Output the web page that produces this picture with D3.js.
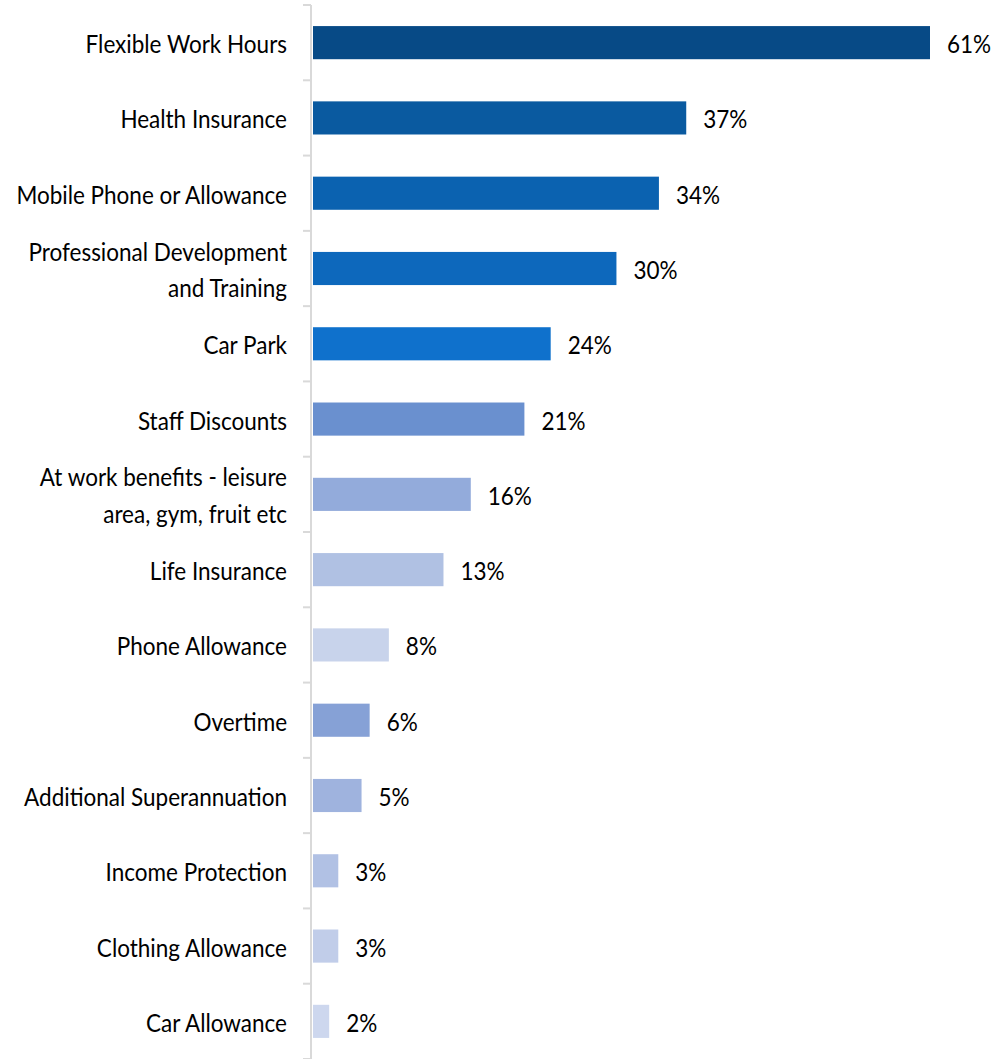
<!DOCTYPE html>
<html><head><meta charset="utf-8">
<script src="https://cdn.jsdelivr.net/npm/d3@7"></script>
<style>html,body{margin:0;padding:0;background:#fff;} svg{display:block;}</style>
</head><body>
<svg id="chart" width="1008" height="1059"></svg>
<script>
const categories = [
  ["Flexible Work Hours"],
  ["Health Insurance"],
  ["Mobile Phone or Allowance"],
  ["Professional Development", "and Training"],
  ["Car Park"],
  ["Staff Discounts"],
  ["At work benefits - leisure", "area, gym, fruit etc"],
  ["Life Insurance"],
  ["Phone Allowance"],
  ["Overtime"],
  ["Additional Superannuation"],
  ["Income Protection"],
  ["Clothing Allowance"],
  ["Car Allowance"]
];
// bar lengths (percent)
const values = [61, 36.9, 34.2, 30, 23.5, 20.9, 15.6, 12.9, 7.5, 5.6, 4.8, 2.5, 2.5, 1.6];
// printed data labels
const labels = ["61%", "37%", "34%", "30%", "24%", "21%", "16%", "13%", "8%", "6%", "5%", "3%", "3%", "2%"];
const colors = ["#074a86", "#0a5aa0", "#0b62b0", "#0d68bc", "#0f71cc", "#6a90cf", "#93abdb", "#b0c1e3", "#c8d3eb", "#86a1d6", "#9fb3de", "#b1c1e4", "#c1cde9", "#cdd7ee"];

const svg = d3.select("#chart");
const keys = categories.map(c => c.join(" "));
const y = d3.scaleBand().domain(keys).range([5, 1059]).paddingInner(0.56).paddingOuter(0.28);
const x = d3.scaleLinear().domain([0, 61]).range([313, 930]);
const font = "Lato, 'Open Sans', sans-serif";
const fs = 25, sx = 0.9;

// axis line and ticks
const step = y.step();
svg.append("line").attr("x1", 311).attr("x2", 311).attr("y1", 5).attr("y2", 1059)
  .attr("stroke", "#d9d9d9").attr("stroke-width", 2);
d3.range(keys.length + 1).forEach(i => {
  const yy = 5 + i * step;
  svg.append("line").attr("x1", 303).attr("x2", 311).attr("y1", yy).attr("y2", yy)
    .attr("stroke", "#d9d9d9").attr("stroke-width", 2);
});

svg.selectAll("rect.bar").data(values).enter().append("rect").attr("class", "bar")
  .attr("x", x(0)).attr("y", (d, i) => y(keys[i]))
  .attr("width", d => x(d) - x(0)).attr("height", y.bandwidth())
  .attr("fill", (d, i) => colors[i]);

svg.selectAll("text.val").data(values).enter().append("text").attr("class", "val")
  .attr("transform", (d, i) => `translate(${x(d) + 17},${y(keys[i]) + y.bandwidth() / 2}) scale(${sx},1)`)
  .attr("dy", "0.42em").attr("font-family", font).attr("font-size", fs).attr("fill", "#000")
  .text((d, i) => labels[i]);

categories.forEach((lines, i) => {
  const cy = y(keys[i]) + y.bandwidth() / 2;
  const lh = 37;
  const t = svg.append("text").attr("transform", `translate(287,${cy}) scale(${sx},1)`).attr("text-anchor", "end")
    .attr("font-family", font).attr("font-size", fs).attr("fill", "#000");
  lines.forEach((l, j) => {
    t.append("tspan").attr("x", 0).attr("y", (j - (lines.length - 1) / 2) * lh).attr("dy", "0.42em").text(l);
  });
});
</script>
</body></html>
